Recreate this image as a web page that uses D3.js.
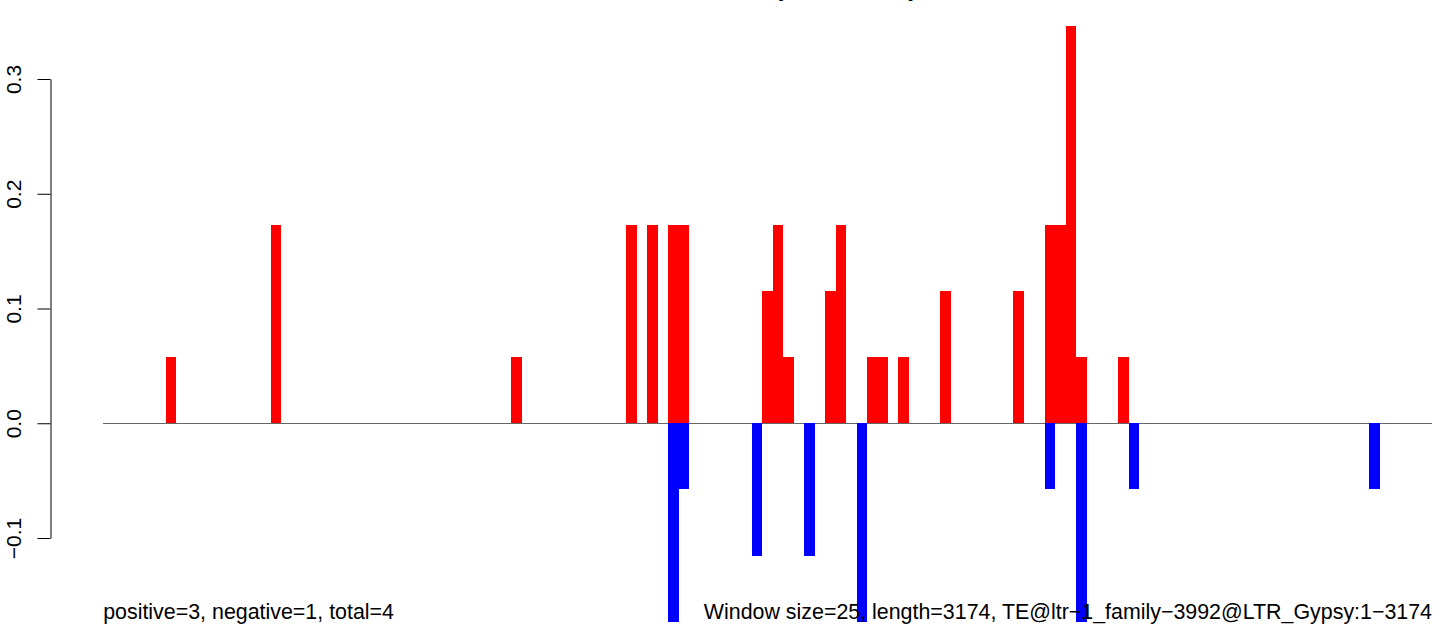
<!DOCTYPE html>
<html>
<head>
<meta charset="utf-8">
<script src="https://cdn.jsdelivr.net/npm/d3@7"></script>
<style>
  html, body { margin: 0; padding: 0; background: #fff; }
  svg { display: block; font-family: "Liberation Sans", Arial, Helvetica, sans-serif; }
</style>
</head>
<body>
<svg id="chart" width="1444" height="634"></svg>
<script>
// ---- data ----
const windowCount = 127;               // length 3174 / window size 25
const posWindows = [6, 16, 39, 50, 52, 54, 55, 63, 64, 65, 69, 70, 73, 74, 76, 80, 87, 90, 91, 92, 93, 97];
const posValues  = [0.0577, 0.1732, 0.0577, 0.1732, 0.1732, 0.1732, 0.1732, 0.1155, 0.1732, 0.0577, 0.1155, 0.1732,
                    0.0577, 0.0577, 0.0577, 0.1155, 0.1155, 0.1732, 0.1732, 0.3464, 0.0577, 0.0577];
const negWindows = [54, 55, 62, 67, 72, 90, 93, 98, 121];
const negValues  = [-0.1732, -0.0577, -0.1155, -0.1155, -0.1732, -0.0577, -0.1732, -0.0577, -0.0577];
const yTicks = [-0.1, 0.0, 0.1, 0.2, 0.3];
const titleText = "smallRNA_depth_overlap";
const leftNote = "positive=3, negative=1, total=4";
const rightNote = "Window size=25, length=3174, TE@ltr\u22121_family\u22123992@LTR_Gypsy:1\u22123174";

// ---- layout ----
const svg = d3.select("#chart");
const x = d3.scaleLinear().domain([0, windowCount]).range([103.2, 1432]);
const y = d3.scaleLinear().domain([-0.1, 0.3]).range([538, 79]);

// title (mostly above the visible area, as in the reference)
svg.append("text")
  .attr("x", (x(0) + x(windowCount)) / 2)
  .attr("y", -4)
  .attr("text-anchor", "middle")
  .attr("font-weight", "bold")
  .attr("font-size", 25.6)
  .text(titleText);

// zero line
svg.append("line")
  .attr("x1", x(0)).attr("x2", x(windowCount))
  .attr("y1", y(0)).attr("y2", y(0))
  .attr("stroke", "#666").attr("stroke-width", 1)
  .attr("shape-rendering", "crispEdges");

const pos = posWindows.map((w, i) => ({ w, v: posValues[i] }));
const neg = negWindows.map((w, i) => ({ w, v: negValues[i] }));

svg.append("g").selectAll("rect").data(pos).join("rect")
  .attr("x", d => x(d.w))
  .attr("width", d => x(d.w + 1) - x(d.w))
  .attr("y", d => y(d.v))
  .attr("height", d => y(0) - y(d.v))
  .attr("fill", "#ff0000")
  .attr("shape-rendering", "crispEdges");

svg.append("g").selectAll("rect").data(neg).join("rect")
  .attr("x", d => x(d.w))
  .attr("width", d => x(d.w + 1) - x(d.w))
  .attr("y", y(0))
  .attr("height", d => y(d.v) - y(0))
  .attr("fill", "#0000ff")
  .attr("shape-rendering", "crispEdges");

// y axis
const axisG = svg.append("g")
  .attr("transform", "translate(50.5,0)")
  .call(d3.axisLeft(y).tickValues(yTicks).tickFormat(d3.format(".1f")).tickSize(13).tickSizeOuter(0));
axisG.select(".domain").attr("stroke", "#000").attr("stroke-width", 1);
axisG.selectAll(".tick line").attr("stroke", "#000").attr("stroke-width", 1);
axisG.selectAll(".tick text")
  .attr("x", null).attr("dy", null)
  .attr("transform", "translate(-30,0) rotate(-90)")
  .attr("text-anchor", "middle")
  .attr("fill", "#000")
  .attr("font-size", 21)
  .attr("font-family", "Liberation Sans, Arial, Helvetica, sans-serif");

// bottom notes
svg.append("text")
  .attr("x", x(0)).attr("y", 619)
  .attr("font-size", 21.4)
  .attr("fill", "#000")
  .text(leftNote);
svg.append("text")
  .attr("x", x(windowCount)).attr("y", 619)
  .attr("text-anchor", "end")
  .attr("font-size", 21.4)
  .attr("fill", "#000")
  .text(rightNote);
</script>
</body>
</html>
